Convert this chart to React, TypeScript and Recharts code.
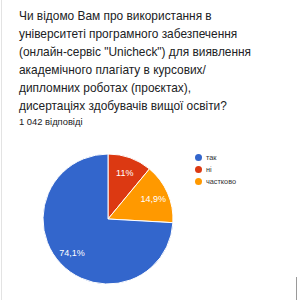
import React from 'react'
import { PieChart, Pie, Cell } from 'recharts'

const title = [
  'Чи відомо Вам про використання в',
  'університеті програмного забезпечення',
  '(онлайн-сервіс "Unicheck") для виявлення',
  'академічного плагіату в курсових/',
  'дипломних роботах (проєктах),',
  'дисертаціях здобувачів вищої освіти?',
]
const subtitle = '1 042 відповіді'

const categories = ['так', 'ні', 'частково']
const values = [74.1, 11, 14.9]
const colors = ['#3366cc', '#dc3912', '#ff9900']

// pie drawn clockwise from 12 o'clock in order: ні, частково, так
const sliceOrder = [1, 2, 0]

const fmt = (v: number) => `${String(v).replace('.', ',')}%`

const RAD = Math.PI / 180
const FONT = '"Liberation Sans", Arial, sans-serif'

function SliceLabel(props: any) {
  const { cx, cy, midAngle, outerRadius, value } = props
  const r = outerRadius * 0.76
  const x = cx + r * Math.cos(-midAngle * RAD)
  const y = cy + r * Math.sin(-midAngle * RAD)
  return (
    <text x={x} y={y} fill="#fff" fontSize={9} fontFamily={FONT} textAnchor="middle" dominantBaseline="central">
      {fmt(value)}
    </text>
  )
}

export default function App() {
  const data = sliceOrder.map((i) => ({ name: categories[i], value: values[i], color: colors[i] }))
  return (
    <div style={{ position: 'fixed', left: 0, top: 0, width: 297, height: 300, background: '#fff', overflow: 'hidden' }}>
      <div style={{ position: 'absolute', left: 1, top: 0, width: 1, height: 300, background: '#e3e3e3' }} />
      <div style={{ position: 'absolute', left: 296, top: 277, width: 1, height: 23, background: '#9a9a9a' }} />
      <div
        style={{
          position: 'absolute',
          left: 19,
          top: 7,
          fontFamily: FONT,
          fontSize: 11.9,
          lineHeight: '18px',
          color: '#202124',
          whiteSpace: 'nowrap',
        }}
      >
        {title.map((t) => (
          <div key={t}>{t}</div>
        ))}
      </div>
      <div style={{ position: 'absolute', left: 19, top: 116, fontFamily: FONT, fontSize: 9.4, color: '#202124' }}>
        {subtitle}
      </div>
      <div style={{ position: 'absolute', left: 0, top: 0 }}>
        <PieChart width={297} height={300} margin={{ top: 0, right: 0, bottom: 0, left: 0 }}>
          <Pie
            data={data}
            dataKey="value"
            nameKey="name"
            cx={108}
            cy={219}
            outerRadius={65}
            startAngle={90}
            endAngle={-270}
            stroke="#fff"
            strokeWidth={1}
            label={SliceLabel}
            labelLine={false}
            isAnimationActive={false}
          >
            {data.map((d) => (
              <Cell key={d.name} fill={d.color} />
            ))}
          </Pie>
        </PieChart>
      </div>
      <div style={{ position: 'absolute', left: 194.5, top: 152, fontFamily: FONT, fontSize: 7.3, color: '#333' }}>
        {categories.map((c, i) => (
          <div key={c} style={{ display: 'flex', alignItems: 'center', height: 11.7 }}>
            <span style={{ width: 7, height: 7, borderRadius: '50%', background: colors[i], marginRight: 4.5 }} />
            <span>{c}</span>
          </div>
        ))}
      </div>
    </div>
  )
}
